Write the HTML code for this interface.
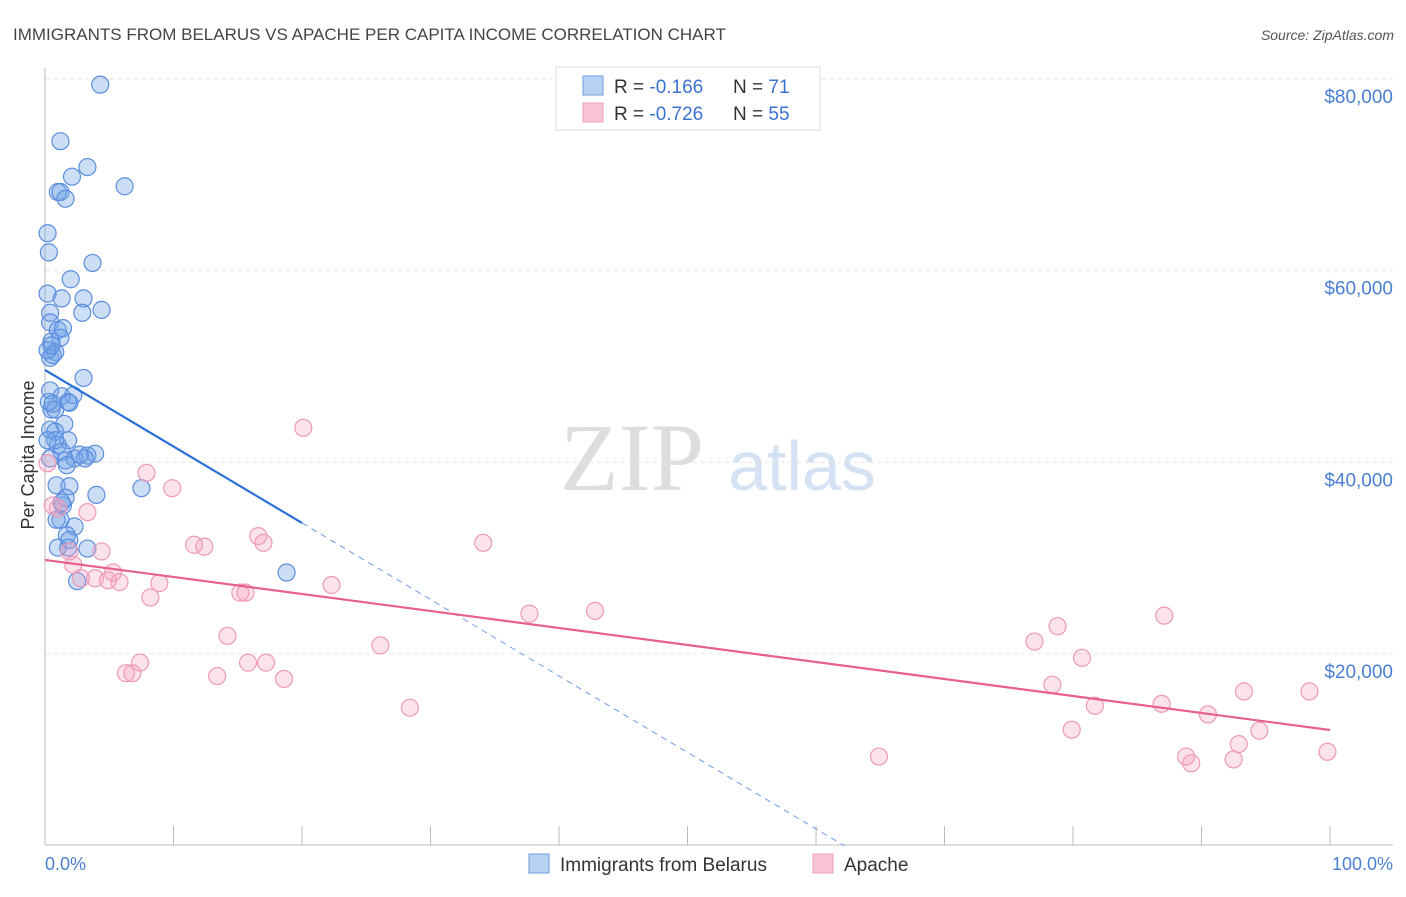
<!DOCTYPE html>
<html><head><meta charset="utf-8"><style>
body{margin:0;background:#fff;font-family:"Liberation Sans",sans-serif}
</style></head><body>
<svg id="c" width="1406" height="892" xmlns="http://www.w3.org/2000/svg" font-family="Liberation Sans, sans-serif">
<text x="13" y="40" font-size="17" fill="#444">IMMIGRANTS FROM BELARUS VS APACHE PER CAPITA INCOME CORRELATION CHART</text>
<text x="1394" y="40" font-size="14" fill="#555" font-style="italic" text-anchor="end">Source: ZipAtlas.com</text>
<g>
<text x="632" y="490" font-size="96" fill="#ddd" font-family="Liberation Serif, serif" text-anchor="middle">ZIP</text>
<text x="802" y="490" font-size="70" fill="#d4e2f4" text-anchor="middle">atlas</text>
</g>
<g id="grid"></g><g id="axes"></g><g id="marks"></g>
<text transform="translate(34,455) rotate(-90)" font-size="18" fill="#333" text-anchor="middle">Per Capita Income</text>
<text x="45" y="870" font-size="18" fill="#4a7fd4">0.0%</text>
<text x="1393" y="870" font-size="18" fill="#4a7fd4" text-anchor="end">100.0%</text>
<g>
<rect x="556" y="67" width="264" height="63" fill="#fff" stroke="#ddd"/>
<rect x="583" y="76" width="20" height="19" fill="#b9d1f3" stroke="#6f9ce3"/>
<rect x="583" y="103" width="20" height="19" fill="#f9c5d5" stroke="#eea0b8"/>
<text x="614" y="93" font-size="19" fill="#333">R = <tspan fill="#3a72d0">-0.166</tspan><tspan x="733">N = </tspan><tspan fill="#3a72d0">71</tspan></text>
<text x="614" y="120" font-size="19" fill="#333">R = <tspan fill="#3a72d0">-0.726</tspan><tspan x="733">N = </tspan><tspan fill="#3a72d0">55</tspan></text>
</g>
<g>
<rect x="529" y="854" width="20" height="19" fill="#b9d1f3" stroke="#6f9ce3"/>
<text x="560" y="871" font-size="19" fill="#333">Immigrants from Belarus</text>
<rect x="813" y="854" width="20" height="19" fill="#f9c5d5" stroke="#eea0b8"/>
<text x="844" y="871" font-size="19" fill="#333">Apache</text>
</g>
</svg>
<script>
const yTicks=[20000,40000,60000,80000];
const yTickLabels=["$20,000","$40,000","$60,000","$80,000"];
const xTicks=[0,10,20,30,40,50,60,70,80,90,100];
const blueX=[4.3,1.2,3.3,2.1,1.0,1.2,1.6,6.2,0.2,0.3,3.7,2.0,0.2,1.3,3.0,0.4,2.9,4.4,0.4,1.0,1.4,1.2,0.5,0.8,0.4,0.6,3.0,0.4,1.3,2.2,1.8,0.5,0.8,1.5,0.4,0.8,1.8,1.0,1.3,2.3,0.4,3.3,3.9,3.1,1.6,7.5,0.9,1.9,4.0,1.6,1.4,1.2,2.3,1.7,1.8,3.3,1.0,2.5,18.8,1.3,0.8,0.3,0.6,1.9,0.2,0.5,2.7,0.9,1.7,0.2,1.9];
const blueY=[79.4,73.5,70.8,69.8,68.2,68.2,67.5,68.8,63.9,61.9,60.8,59.1,57.6,57.1,57.1,55.6,55.6,55.9,54.6,53.8,54.0,53.0,52.6,51.5,50.9,51.2,48.8,47.5,46.9,47.0,46.3,45.5,45.5,44.0,43.4,43.2,42.3,41.8,41.1,40.4,40.4,40.7,40.9,40.4,40.2,37.3,37.6,37.5,36.6,36.3,35.5,34.0,33.3,32.4,31.1,31.0,31.1,27.6,28.5,35.8,42.3,46.3,46.1,46.2,51.7,52.2,40.8,34.0,39.7,42.3,31.9];
const pinkX=[0.2,1.0,3.3,20.1,7.9,9.9,11.6,12.4,4.4,1.9,2.2,5.3,3.9,4.9,5.8,8.9,8.2,16.6,17.0,15.2,15.6,22.3,34.1,37.7,42.8,14.2,7.4,6.3,6.8,15.8,17.2,13.4,18.6,26.1,28.4,77.0,78.8,80.7,78.4,81.7,79.9,87.1,86.9,90.5,93.3,98.4,64.9,88.8,89.2,92.5,92.9,94.5,99.8,2.8,0.6];
const pinkY=[39.9,35.2,34.8,43.6,38.9,37.3,31.4,31.2,30.7,30.7,29.3,28.5,27.9,27.7,27.5,27.4,25.9,32.3,31.6,26.4,26.4,27.2,31.6,24.2,24.5,21.9,19.1,18.0,18.0,19.1,19.1,17.7,17.4,20.9,14.4,21.3,22.9,19.6,16.8,14.6,12.1,24.0,14.8,13.7,16.1,16.1,9.3,9.3,8.6,9.0,10.6,12.0,9.8,27.9,35.5];
const blueTrend=[49630,-798];   // intercept, slope per %
const pinkTrend=[29810,-177.4];
const NS="http://www.w3.org/2000/svg";
const sx=v=>45+v*12.85, sy=v=>845.7-v/20000*191.7;
function mk(t,a,p){const e=document.createElementNS(NS,t);for(const k in a)e.setAttribute(k,a[k]);p.appendChild(e);return e;}
const G=document.getElementById('grid'),A=document.getElementById('axes'),M=document.getElementById('marks');
yTicks.forEach((t,i)=>{
 const l=mk('line',{x1:45,x2:1393,y1:sy(t),y2:sy(t),stroke:'#e4e4e4','stroke-dasharray':'4,4'},G);
 
 
 const tx=mk('text',{x:1393,y:sy(t)+24,'font-size':19,fill:'#4a7fd4','text-anchor':'end'},G);
 tx.textContent=yTickLabels[i];
 
 
});
const ya=mk('line',{x1:45,x2:45,y1:68,y2:845,stroke:'#bbb'},A);


const xa=mk('line',{x1:45,x2:1393,y1:845,y2:845,stroke:'#bbb'},A);


xTicks.forEach(t=>{const l=mk('line',{x1:sx(t),x2:sx(t),y1:826,y2:845,stroke:'#bbb'},A);
 
 });
blueX.forEach((x,i)=>{const c=mk('circle',{cx:sx(x),cy:sy(blueY[i]*1000),r:8.5,fill:'rgba(110,160,230,0.35)',stroke:'#5b8ee0','stroke-width':1.2},M);
 
 });
pinkX.forEach((x,i)=>{const c=mk('circle',{cx:sx(x),cy:sy(pinkY[i]*1000),r:8.5,fill:'rgba(245,160,190,0.3)',stroke:'#ee9ab5','stroke-width':1.2},M);
 
 });
const bz=-blueTrend[0]/blueTrend[1];
const b1=mk('line',{x1:sx(0),y1:sy(blueTrend[0]),x2:sx(20),y2:sy(blueTrend[0]+20*blueTrend[1]),stroke:'#2a6fd6','stroke-width':2.2},M);


const b2=mk('line',{x1:sx(20),y1:sy(blueTrend[0]+20*blueTrend[1]),x2:sx(bz),y2:sy(0),stroke:'#6f9ce3','stroke-width':1,'stroke-dasharray':'6,5'},M);


const p1=mk('line',{x1:sx(0),y1:sy(pinkTrend[0]),x2:sx(100),y2:sy(pinkTrend[0]+100*pinkTrend[1]),stroke:'#e8608c','stroke-width':2.2},M);


</script>
</body></html>
